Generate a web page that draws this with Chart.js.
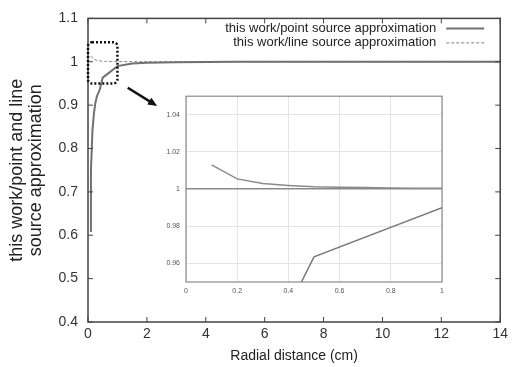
<!DOCTYPE html>
<html>
<head>
<meta charset="utf-8">
<script src="https://cdn.jsdelivr.net/npm/chart.js@4.4.1/dist/chart.umd.min.js"></script>
<style>
  body { margin: 0; background: #fff; }
  #wrap { position: relative; width: 512px; height: 367px; }
  #mainChart { position: absolute; left: 0; top: 0; }
  #insetChart { position: absolute; left: 150px; top: 86px; }
</style>
</head>
<body>
<div id="wrap">
  <canvas id="mainChart" width="512" height="367"></canvas>
  <canvas id="insetChart" width="300" height="215"></canvas>
</div>
<script>
const FONT = "'Liberation Sans', Arial, sans-serif";

// point source curve (ratio vs radial distance)
const pointX = [0.07, 0.1, 0.15, 0.2, 0.25, 0.3, 0.4, 0.5, 1, 1.5, 2, 3, 4, 5, 6, 7, 8, 9, 10, 11, 12, 13, 14];
const pointY = [0.61, 0.75, 0.84, 0.88, 0.905, 0.92, 0.936, 0.9635, 0.990, 0.996, 0.998, 0.999, 0.9995, 1, 1, 1, 1, 1, 1, 1, 1, 1, 1];

// line source curve
const lineX = [0.1, 0.2, 0.3, 0.4, 0.5, 0.6, 0.7, 0.8, 0.9, 1, 2, 3, 4, 6, 8, 10, 12, 14];
const lineY = [1.013, 1.0055, 1.003, 1.002, 1.0012, 1.001, 1.0008, 1.0006, 1.0005, 1.0004, 1.0001, 1, 1, 1, 1, 1, 1, 1];

const labels = ["this work/point source approximation", "this work/line source approximation"];

const xTicks = [0, 2, 4, 6, 8, 10, 12, 14];
const yTicks = [0.4, 0.5, 0.6, 0.7, 0.8, 0.9, 1, 1.1];
const inXTicks = [0, 0.2, 0.4, 0.6, 0.8, 1];
const inYTicks = [0.96, 0.98, 1, 1.02, 1.04];

// zoom box (x0, x1, y0, y1) and arrow (x0, y0, x1, y1) in data units
const zoomBox = [0, 1, 0.95, 1.045];
const arrow = [1.35, 0.94, 2.35, 0.898];

function toPts(xs, ys) {
  return xs.map((x, i) => ({ x: x, y: ys[i] }));
}

function setTicks(list) {
  return (scale) => {
    scale.ticks = list.map((v) => ({ value: v }));
  };
}

const plain = (v) => String(v);

const mainDecor = {
  id: "mainDecor",
  afterDatasetsDraw(chart) {
    const ctx = chart.ctx;
    const a = chart.chartArea;
    const xs = chart.scales.x;
    const ys = chart.scales.y;
    ctx.save();
    // frame + inward ticks on all sides
    ctx.strokeStyle = "#444";
    ctx.lineWidth = 1.5;
    ctx.strokeRect(a.left, a.top, a.right - a.left, a.bottom - a.top);
    ctx.lineWidth = 1;
    ctx.beginPath();
    xTicks.forEach((v) => {
      const px = xs.getPixelForValue(v);
      ctx.moveTo(px, a.bottom);
      ctx.lineTo(px, a.bottom - 5);
      ctx.moveTo(px, a.top);
      ctx.lineTo(px, a.top + 5);
    });
    yTicks.forEach((v) => {
      const py = ys.getPixelForValue(v);
      ctx.moveTo(a.left, py);
      ctx.lineTo(a.left + 5, py);
      ctx.moveTo(a.right, py);
      ctx.lineTo(a.right - 5, py);
    });
    ctx.stroke();

    // legend (text right aligned, sample on the right)
    ctx.font = "13px " + FONT;
    ctx.fillStyle = "#222";
    ctx.textAlign = "right";
    ctx.textBaseline = "middle";
    chart.data.datasets.forEach((ds, i) => {
      const y = a.top + 10 + i * 14.5;
      ctx.fillText(ds.label, a.right - 64, y);
      ctx.strokeStyle = ds.borderColor;
      ctx.lineWidth = ds.borderWidth;
      ctx.setLineDash(ds.borderDash || []);
      ctx.beginPath();
      ctx.moveTo(a.right - 54, y);
      ctx.lineTo(a.right - 16, y);
      ctx.stroke();
    });

    // dotted zoom box
    const bx0 = xs.getPixelForValue(zoomBox[0]);
    const bx1 = xs.getPixelForValue(zoomBox[1]);
    const by0 = ys.getPixelForValue(zoomBox[3]);
    const by1 = ys.getPixelForValue(zoomBox[2]);
    ctx.strokeStyle = "#111";
    ctx.lineWidth = 2.5;
    ctx.setLineDash([2, 2]);
    ctx.beginPath();
    ctx.roundRect(bx0, by0, bx1 - bx0, by1 - by0, 4);
    ctx.stroke();
    ctx.setLineDash([]);

    // arrow
    const ax0 = xs.getPixelForValue(arrow[0]);
    const ay0 = ys.getPixelForValue(arrow[1]);
    const ax1 = xs.getPixelForValue(arrow[2]);
    const ay1 = ys.getPixelForValue(arrow[3]);
    const ang = Math.atan2(ay1 - ay0, ax1 - ax0);
    ctx.lineWidth = 2.5;
    ctx.beginPath();
    ctx.moveTo(ax0, ay0);
    ctx.lineTo(ax1 - 6 * Math.cos(ang), ay1 - 6 * Math.sin(ang));
    ctx.stroke();
    ctx.fillStyle = "#111";
    ctx.beginPath();
    ctx.moveTo(ax1, ay1);
    ctx.lineTo(ax1 - 10 * Math.cos(ang - 0.4), ay1 - 10 * Math.sin(ang - 0.4));
    ctx.lineTo(ax1 - 10 * Math.cos(ang + 0.4), ay1 - 10 * Math.sin(ang + 0.4));
    ctx.closePath();
    ctx.fill();
    ctx.restore();
  },
};

new Chart(document.getElementById("mainChart"), {
  type: "line",
  data: {
    datasets: [
      {
        label: labels[0],
        data: toPts(pointX, pointY),
        borderColor: "#707070",
        borderWidth: 2,
        pointRadius: 0,
      },
      {
        label: labels[1],
        data: toPts(lineX, lineY),
        borderColor: "#808080",
        borderWidth: 1,
        borderDash: [3, 2],
        pointRadius: 0,
      },
    ],
  },
  options: {
    responsive: false,
    animation: false,
    layout: { padding: { left: 0, right: 10, top: 14, bottom: 0 } },
    plugins: { legend: { display: false }, tooltip: { enabled: false } },
    scales: {
      x: {
        type: "linear",
        min: 0,
        max: 14,
        afterBuildTicks: setTicks(xTicks),
        afterFit: (s) => { s.height = 45; },
        grid: { display: false, drawTicks: false },
        border: { display: false },
        ticks: { font: { family: FONT, size: 14 }, color: "#333", padding: 4, callback: plain },
        title: {
          display: true,
          text: "Radial distance (cm)",
          font: { family: FONT, size: 14 },
          color: "#222",
          padding: { top: 0, bottom: 2 },
        },
      },
      y: {
        type: "linear",
        min: 0.4,
        max: 1.1,
        afterBuildTicks: setTicks(yTicks),
        afterFit: (s) => { s.width = 88; },
        grid: { display: false, drawTicks: false },
        border: { display: false },
        ticks: { font: { family: FONT, size: 14 }, color: "#333", padding: 10, callback: plain },
        title: {
          display: true,
          text: ["this work/point and line", "source approximation"],
          font: { family: FONT, size: 18, lineHeight: 1.05 },
          color: "#222",
          padding: { top: 8, bottom: 0 },
        },
      },
    },
  },
  plugins: [mainDecor],
});

const insetDecor = {
  id: "insetDecor",
  beforeDraw(chart) {
    const a = chart.chartArea;
    chart.ctx.save();
    chart.ctx.fillStyle = "#fff";
    chart.ctx.fillRect(a.left, a.top, a.right - a.left, a.bottom - a.top);
    chart.ctx.restore();
  },
  afterDatasetsDraw(chart) {
    const ctx = chart.ctx;
    const a = chart.chartArea;
    ctx.save();
    ctx.strokeStyle = "#8a8a8a";
    ctx.lineWidth = 1.2;
    ctx.strokeRect(a.left, a.top, a.right - a.left, a.bottom - a.top);
    ctx.restore();
  },
};

new Chart(document.getElementById("insetChart"), {
  type: "line",
  data: {
    datasets: [
      {
        label: labels[0],
        data: toPts(pointX, pointY),
        borderColor: "#7a7a7a",
        borderWidth: 1.5,
        pointRadius: 0,
      },
      {
        label: labels[1],
        data: toPts(lineX, lineY),
        borderColor: "#8a8a8a",
        borderWidth: 1.5,
        pointRadius: 0,
      },
    ],
  },
  options: {
    responsive: false,
    animation: false,
    layout: { padding: { left: 0, right: 8, top: 7, bottom: 0 } },
    plugins: { legend: { display: false }, tooltip: { enabled: false } },
    scales: {
      x: {
        type: "linear",
        min: 0,
        max: 1,
        afterBuildTicks: setTicks(inXTicks),
        afterFit: (s) => { s.height = 19; },
        grid: { color: "#e4e4e4", drawTicks: false },
        border: { display: false },
        ticks: { font: { family: FONT, size: 7 }, color: "#555", padding: 5, callback: plain },
      },
      y: {
        type: "linear",
        min: 0.95,
        max: 1.05,
        afterBuildTicks: setTicks(inYTicks),
        afterFit: (s) => { s.width = 36; },
        grid: {
          color: (c) => (c.tick && c.tick.value === 1 ? "#8a8a8a" : "#e4e4e4"),
          lineWidth: (c) => (c.tick && c.tick.value === 1 ? 1.5 : 1),
          drawTicks: false,
        },
        border: { display: false },
        ticks: { font: { family: FONT, size: 7 }, color: "#555", padding: 6, callback: plain },
      },
    },
  },
  plugins: [insetDecor],
});
</script>
</body>
</html>
